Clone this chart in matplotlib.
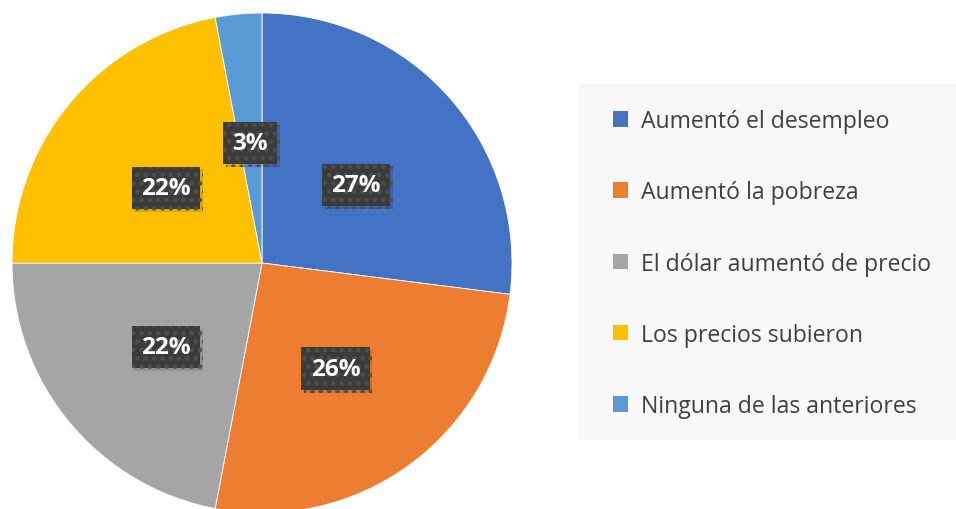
import matplotlib
matplotlib.use("Agg")
import matplotlib.pyplot as plt
from matplotlib.patches import Patch, Rectangle
from matplotlib.transforms import offset_copy
import matplotlib.patheffects as pe

# datos de la encuesta
categorias = ['Aumentó el desempleo', 'Aumentó la pobreza', 'El dólar aumentó de precio',
              'Los precios subieron', 'Ninguna de las anteriores']
porcentajes = [27, 26, 22, 22, 3]
colores = ['#4472C4', '#ED7D31', '#A5A5A5', '#FFC000', '#5B9BD5']

plt.rcParams['font.family'] = ['Open Sans', 'DejaVu Sans']
plt.rcParams['hatch.linewidth'] = 2.0

fig = plt.figure(figsize=(9.56, 5.10), dpi=100)
W, H = 956, 510
cx, cy, r = 262, 264, 250
ax = fig.add_axes([(cx - r) / W, (H - cy - r) / H, 2 * r / W, 2 * r / H])

wedges, texts, autotexts = ax.pie(
    porcentajes, colors=colores, startangle=90, counterclock=False,
    autopct='%1.0f%%', pctdistance=0.5, radius=1.0,
    wedgeprops=dict(edgecolor='white', linewidth=0.6),
    textprops=dict(color='white', fontsize=17.5, fontweight='bold'))
ax.set_xlim(-1, 1)
ax.set_ylim(-1, 1)
ax.set_aspect('equal')

# etiquetas en cajas oscuras punteadas con sombra suave
for t in autotexts:
    t.set_transform(offset_copy(ax.transData, fig=fig, x=0, y=-4.5, units='dots'))
    t.set_bbox(dict(boxstyle='square,pad=0.38', facecolor='#3b3b3b',
                    edgecolor='#4f4f4f', linewidth=0, hatch='..'))
    t.get_bbox_patch().set_path_effects([
        pe.SimplePatchShadow(offset=(2, -2), shadow_rgbFace='black', alpha=0.12),
        pe.Normal()])

# fondo de la leyenda
fig.patches.append(Rectangle((578 / W, 1 - 441 / H), (W - 578) / W, (441 - 85) / H,
                             transform=fig.transFigure, facecolor='#F8F8F8',
                             edgecolor='none', zorder=0))

handles = [Patch(facecolor=c, edgecolor='none') for c in colores]
leg = fig.legend(handles, categorias, loc='upper left',
                 bbox_to_anchor=(613 / W, 1 - 110 / H),
                 borderaxespad=0, borderpad=0, frameon=False,
                 fontsize=16.6, labelcolor='#404040',
                 handlelength=0.65, handleheight=0.65, handletextpad=0.56,
                 labelspacing=2.05)

fig.savefig('out.png', dpi=100)
